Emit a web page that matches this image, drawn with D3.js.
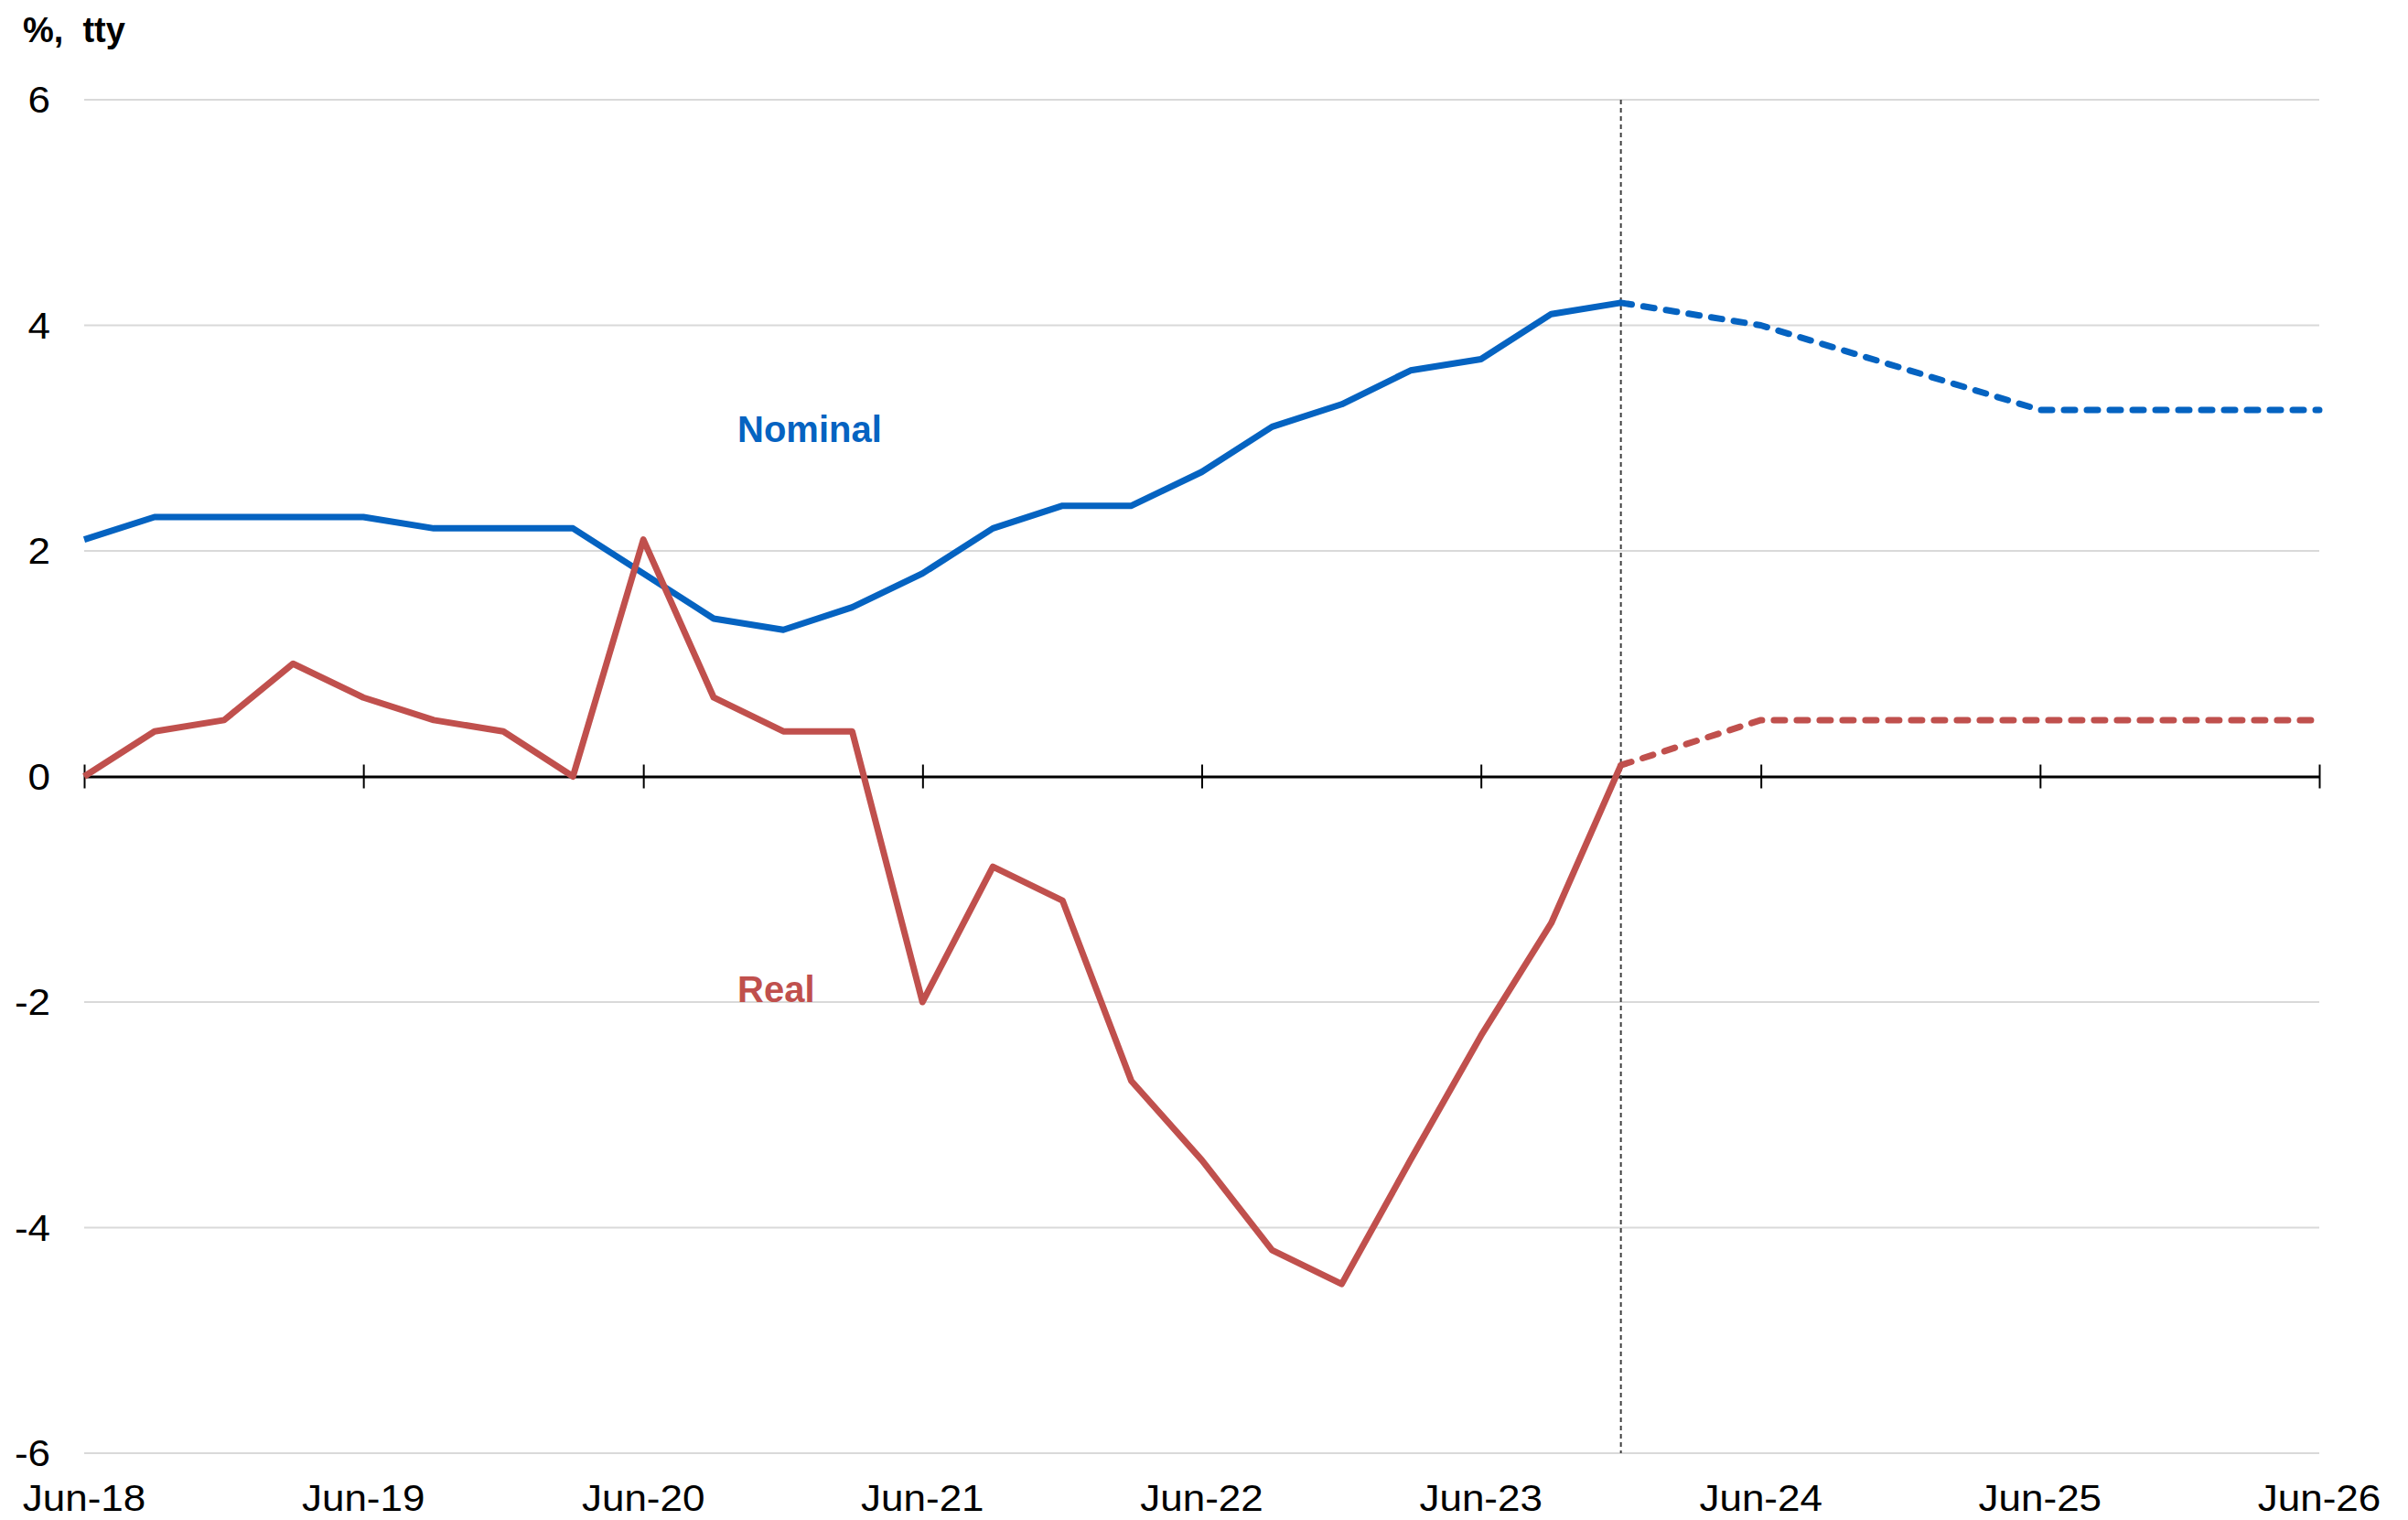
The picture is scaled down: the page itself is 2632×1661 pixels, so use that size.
<!DOCTYPE html>
<html>
<head>
<meta charset="utf-8">
<script src="https://cdn.jsdelivr.net/npm/d3@7"></script>
<style>
  body { margin: 0; background: #fff; }
  svg text { font-family: "Liberation Sans", Arial, sans-serif; }
</style>
</head>
<body>
<svg id="chart" width="2632" height="1661"></svg>
<script>
// quarterly history, Jun-18 .. Dec-23
var histDates = ['2018-06', '2018-09', '2018-12', '2019-03', '2019-06', '2019-09', '2019-12',
  '2020-03', '2020-06', '2020-09', '2020-12', '2021-03', '2021-06', '2021-09', '2021-12',
  '2022-03', '2022-06', '2022-09', '2022-12', '2023-03', '2023-06', '2023-09', '2023-12'];
var nominalHist = [2.1, 2.3, 2.3, 2.3, 2.3, 2.2, 2.2, 2.2, 1.8, 1.4, 1.3, 1.5, 1.8, 2.2, 2.4,
  2.4, 2.7, 3.1, 3.3, 3.6, 3.7, 4.1, 4.2];
var realHist = [0.0, 0.4, 0.5, 1.0, 0.7, 0.5, 0.4, 0.0, 2.1, 0.7, 0.4, 0.4, -2.0, -0.8, -1.1,
  -2.7, -3.4, -4.2, -4.5, -3.4, -2.3, -1.3, 0.1];

// forecast
var fcDates = ['2023-12', '2024-06', '2025-06', '2026-06'];
var nominalFc = [4.2, 4.0, 3.25, 3.25];
var realFc = [0.1, 0.5, 0.5, 0.5];

var tickDates = ['2018-06', '2019-06', '2020-06', '2021-06', '2022-06', '2023-06', '2024-06', '2025-06', '2026-06'];
var yTicks = [-6, -4, -2, 0, 2, 4, 6];
var forecastStart = '2023-12';

var parse = d3.timeParse('%Y-%m');
var fmt = d3.timeFormat('%b-%y');

var margin = { top: 109, right: 97, bottom: 73, left: 92 };
var width = 2632, height = 1661;
var innerW = width - margin.left - margin.right,
  innerH = height - margin.top - margin.bottom;

var blue = '#0563C1', red = '#C0504D';
var labelSize = 40, labelStretch = 1.1;

var x = d3.scaleTime()
  .domain([parse('2018-06'), parse('2026-06')])
  .range([0, innerW]);
var y = d3.scaleLinear().domain([-6, 6]).range([innerH, 0]);

var svg = d3.select('#chart');
var g = svg.append('g')
  .attr('transform', 'translate(' + margin.left + ',' + margin.top + ')');

// gridlines
g.append('g')
  .selectAll('line')
  .data(yTicks.filter(function(d) { return d !== 0; }))
  .enter()
  .append('line')
  .attr('x1', 0)
  .attr('x2', innerW)
  .attr('y1', function(d) { return y(d); })
  .attr('y2', function(d) { return y(d); })
  .attr('stroke', '#d9d9d9')
  .attr('stroke-width', 2);

// y labels (plain hyphen for negatives, text a bit wide like the source)
g.append('g')
  .selectAll('text')
  .data(yTicks)
  .enter()
  .append('text')
  .attr('transform', function(d) {
    return 'translate(-37,' + y(d) + ') scale(' + labelStretch + ',1)';
  })
  .attr('dy', '0.35em')
  .attr('text-anchor', 'end')
  .attr('font-size', labelSize)
  .attr('fill', '#000')
  .text(function(d) { return String(d); });

// zero axis with ticks crossing it
var xAxis = d3.axisBottom(x)
  .tickValues(tickDates.map(parse))
  .tickSize(13)
  .tickSizeOuter(0)
  .tickFormat('');
var xg = g.append('g')
  .attr('transform', 'translate(0,' + y(0) + ')')
  .call(xAxis);
xg.select('.domain').attr('stroke', '#000').attr('stroke-width', 3);
xg.selectAll('.tick line')
  .attr('stroke', '#000')
  .attr('stroke-width', 2)
  .attr('y1', -13);

// x labels along the bottom
g.append('g')
  .selectAll('text')
  .data(tickDates.map(parse))
  .enter()
  .append('text')
  .attr('transform', function(d) {
    return 'translate(' + x(d) + ',' + (innerH + 63) + ') scale(' + labelStretch + ',1)';
  })
  .attr('text-anchor', 'middle')
  .attr('font-size', labelSize)
  .attr('fill', '#000')
  .text(fmt);

// forecast divider
g.append('line')
  .attr('x1', x(parse(forecastStart)))
  .attr('x2', x(parse(forecastStart)))
  .attr('y1', y(6))
  .attr('y2', y(-6))
  .attr('stroke', '#404040')
  .attr('stroke-width', 2)
  .attr('stroke-dasharray', '5,4');

var line = d3.line()
  .x(function(d) { return x(d[0]); })
  .y(function(d) { return y(d[1]); });

function pairs(dates, vals) {
  return dates.map(function(d, i) { return [parse(d), vals[i]]; });
}

function drawSeries(dates, vals, color, dashed) {
  g.append('path')
    .datum(pairs(dates, vals))
    .attr('d', line)
    .attr('fill', 'none')
    .attr('stroke', color)
    .attr('stroke-width', 7)
    .attr('stroke-linejoin', 'round')
    .attr('stroke-linecap', dashed ? 'round' : 'butt')
    .attr('stroke-dasharray', dashed ? '12,13' : null);
}

drawSeries(histDates, nominalHist, blue, false);
drawSeries(histDates, realHist, red, false);
drawSeries(fcDates, nominalFc, blue, true);
drawSeries(fcDates, realFc, red, true);

// series labels
g.append('text')
  .attr('x', 714)
  .attr('y', 374)
  .attr('font-size', 40)
  .attr('font-weight', 'bold')
  .attr('fill', blue)
  .text('Nominal');
g.append('text')
  .attr('x', 714)
  .attr('y', 986)
  .attr('font-size', 40)
  .attr('font-weight', 'bold')
  .attr('fill', red)
  .text('Real');

// unit title
svg.append('text')
  .attr('x', 25)
  .attr('y', 46)
  .attr('font-size', 38)
  .attr('font-weight', 'bold')
  .attr('fill', '#000')
  .style('white-space', 'pre')
  .text('%,  tty');
</script>
</body>
</html>
